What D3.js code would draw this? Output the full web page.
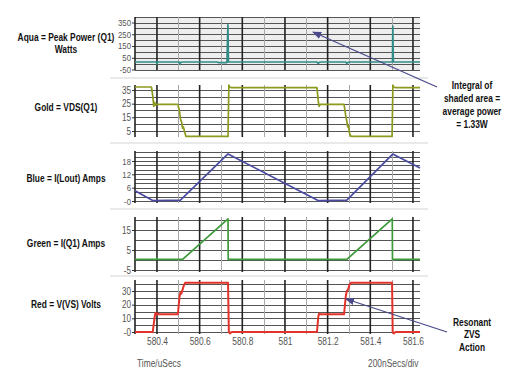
<!DOCTYPE html>
<html><head><meta charset="utf-8">
<script src="https://cdn.jsdelivr.net/npm/d3@7"></script>
<style>body{margin:0;background:#fff}svg{display:block}</style>
</head><body><svg id="c" width="515" height="383"></svg>
<script>
// ---------- data ----------
const timeTicks = [580.4, 580.6, 580.8, 581, 581.2, 581.4, 581.6];
const minorTimes = [580.5, 580.7, 580.9, 581.1, 581.3, 581.5];
const timeDomain = [580.297, 581.633];

const powerTicks = [350, 250, 150, 50, -50];
const vdsTicks = [35, 25, 15, 5];
const iloutTicks = [18, 12, 6, 0];
const iq1Ticks = [15, 5, -5];
const vvsTicks = [30, 20, 10, 0];

const powerGrid = [-50, 0, 50, 100, 150, 200, 250, 300, 350, 400];
const vdsGrid = [5, 10, 15, 20, 25, 30, 35];
const iloutGrid = [0, 2, 4, 6, 8, 10, 12, 14, 16, 18, 20, 22];
const iq1Grid = [-5, 0, 5, 10, 15, 20];
const vvsGrid = [0, 5, 10, 15, 20, 25, 30, 35];

const powerDomain = [-54, 397];
const vdsDomain = [0.6, 38.66];
const iloutDomain = [-0.9, 22.5];
const iq1Domain = [-6, 21.5];
const vvsDomain = [-1.46, 38.05];

// Aqua = peak power (W)
const aquaPower = [[580.297,14],[580.398,14],[580.400,-4],[580.403,14],[580.505,14],[580.508,-2],[580.512,12],[580.52,14],
  [580.68,14],[580.69,9],[580.728,9],[580.7325,330],[580.735,14],[581.15,14],[581.155,2],[581.162,12],[581.17,14],
  [581.285,14],[581.29,2],[581.297,12],[581.305,14],[581.504,14],[581.5055,320],[581.508,14],[581.633,14]];
// Gold = VDS(Q1) (V)
const goldVds = [[580.297,37.2],[580.374,37.2],[580.380,31],[580.385,23],[580.389,26],[580.393,24],[580.40,24.5],[580.498,24.5],
  [580.505,20],[580.51,14],[580.516,11],[580.52,7],[580.524,8],[580.53,4],[580.536,1],[580.733,1],[580.737,38.5],[580.742,37],
  [580.75,36.8],[581.15,36.8],[581.156,27],[581.16,23],[581.165,24.5],[581.277,24.5],[581.284,17],[581.29,12],[581.294,8],
  [581.298,9],[581.303,3],[581.31,1],[581.502,1],[581.506,38.5],[581.511,37],[581.52,36.8],[581.633,36.8]];
// Blue = I(Lout) (A)
const blueIlout = [[580.297,4.6],[580.38,0.2],[580.51,0.4],[580.733,21.2],[581.155,0.2],[581.29,0.4],[581.505,21.1],[581.633,14.8]];
// Green = I(Q1) (A)
const greenIq1 = [[580.297,0.3],[580.398,0.3],[580.40,1],[580.402,0.3],[580.52,0.3],[580.733,20.6],[580.734,0.3],
  [581.29,0.3],[581.503,20.6],[581.504,0.3],[581.633,0.3]];
// Red = V(VS) (V)
const redVvs = [[580.297,0],[580.38,0],[580.39,12],[580.393,14],[580.397,12.5],[580.40,13.5],[580.41,13],[580.498,13],
  [580.506,26],[580.51,29],[580.514,28],[580.52,31],[580.526,34],[580.532,36],[580.733,36],[580.737,0],[580.742,-1],[580.75,0],
  [581.15,0],[581.156,11],[581.16,13.5],[581.165,13],[581.277,13],[581.285,26],[581.29,30],[581.296,31],[581.303,35],[581.31,36],
  [581.502,36],[581.505,0],[581.51,-1],[581.518,0],[581.633,0]];

const seriesLabels = [["Aqua = Peak Power (Q1)", "Watts"], ["Gold = VDS(Q1)"], ["Blue = I(Lout) Amps"], ["Green = I(Q1) Amps"], ["Red = V(VS) Volts"]];
const seriesColors = ["#2f8c86", "#8c9a1e", "#4b4ba3", "#3d9a3a", "#e2332b"];
const noteIntegral = ["Integral of", "shaded area =", "average power", "= 1.33W"];
const noteZvs = ["Resonant", "ZVS", "Action"];
const axisTitle = "Time/uSecs";
const divLabel = "200nSecs/div";

// ---------- layout ----------
const svg = d3.select("#c");
const FONT = "'Liberation Sans',Arial,sans-serif";
const SQ = 0.8; // horizontal condensing of text (narrow look)
function squeeze(sel, f) {
  sel.each(function () {
    const b = this.getBBox();
    const anchor = this.getAttribute("text-anchor") || getComputedStyle(this).textAnchor || "start";
    const ax = anchor === "middle" ? b.x + b.width / 2 : anchor === "end" ? b.x + b.width : b.x;
    d3.select(this).attr("transform", `translate(${ax},0) scale(${f || SQ},1) translate(${-ax},0)`);
  });
}
const x0 = 135, x1 = 420;
const x = d3.scaleLinear().domain(timeDomain).range([x0, x1]);

const panels = [
  {data: aquaPower, domain: powerDomain, ticks: powerTicks, grid: powerGrid, top: 17, bottom: 70, labelY: 43, shade: true, fs: 8.5},
  {data: goldVds, domain: vdsDomain, ticks: vdsTicks, grid: vdsGrid, top: 85, bottom: 137, labelY: 111, fs: 10},
  {data: blueIlout, domain: iloutDomain, ticks: iloutTicks, grid: iloutGrid, top: 151, bottom: 203, labelY: 182, fs: 9.5},
  {data: greenIq1, domain: iq1Domain, ticks: iq1Ticks, grid: iq1Grid, top: 217, bottom: 272, labelY: 247, fs: 10},
  {data: redVvs, domain: vvsDomain, ticks: vvsTicks, grid: vvsGrid, top: 280, bottom: 334, labelY: 308, fs: 10}
];
const separators = [78, 143, 209, 276];

separators.forEach(yy => {
  svg.append("line").attr("x1", 110).attr("x2", 428).attr("y1", yy).attr("y2", yy)
    .attr("stroke", "#d4d4d4").attr("stroke-width", 1.2);
});

panels.forEach((p, i) => {
  const y = d3.scaleLinear().domain(p.domain).range([p.bottom, p.top]);
  const g = svg.append("g");
  if (p.shade) {
    g.append("rect").attr("x", x0).attr("y", p.top).attr("width", x1 - x0).attr("height", p.bottom - p.top)
      .attr("fill", "#eeeeee");
  }
  g.selectAll(".hg").data(p.grid).enter().append("line")
    .attr("x1", x0).attr("x2", x1)
    .attr("y1", d => Math.round(y(d)) + 0.5).attr("y2", d => Math.round(y(d)) + 0.5)
    .attr("stroke", "#555").attr("stroke-width", 1);
  g.selectAll(".mv").data(minorTimes).enter().append("line")
    .attr("x1", d => Math.round(x(d)) + 0.5).attr("x2", d => Math.round(x(d)) + 0.5)
    .attr("y1", p.top).attr("y2", p.bottom)
    .attr("stroke", "#a8a8a8").attr("stroke-width", 1);
  g.selectAll(".jv").data(timeTicks).enter().append("line")
    .attr("x1", d => x(d)).attr("x2", d => x(d))
    .attr("y1", p.top).attr("y2", p.bottom)
    .attr("stroke", "#222").attr("stroke-width", 1.6);
  const ax = d3.axisLeft(y).tickValues(p.ticks).tickSize(3).tickPadding(1)
    .tickFormat(d => d === 0 ? "-0" : String(d));
  const ag = g.append("g").attr("transform", `translate(${x0},0)`).call(ax);
  ag.select(".domain").remove();
  ag.selectAll(".tick line").attr("stroke", "#333");
  ag.selectAll(".tick text").attr("fill", "#555").style("font-family", FONT).style("font-size", p.fs + "px");
  squeeze(ag.selectAll(".tick text"), p.fs < 9 ? 0.92 : 0.82);
  g.append("line").attr("x1", x0).attr("x2", x0).attr("y1", p.top).attr("y2", p.bottom)
    .attr("stroke", "#222").attr("stroke-width", 1.6);
  const line = d3.line().x(d => x(d[0])).y(d => y(d[1]));
  g.append("path").datum(p.data).attr("d", line).attr("fill", "none")
    .attr("stroke", seriesColors[i]).attr("stroke-width", i === 4 ? 2 : 1.7)
    .attr("stroke-linejoin", "round");
  const lab = seriesLabels[i];
  const t = svg.append("text").attr("x", 66).attr("y", lab.length > 1 ? p.labelY - 2 : p.labelY)
    .attr("text-anchor", "middle").style("font-family", FONT).style("font-weight", "bold")
    .style("font-size", "10.5px").attr("fill", "#111");
  lab.forEach((s, k) => t.append("tspan").attr("x", 66).attr("dy", k === 0 ? 0 : 12).text(s));
  squeeze(t);
});

const xa = d3.axisBottom(x).tickValues(timeTicks).tickSize(0).tickPadding(4).tickFormat(d => String(d));
const xg = svg.append("g").attr("transform", `translate(0,334)`).call(xa);
xg.select(".domain").remove();
xg.selectAll(".tick text").attr("fill", "#555").style("font-family", FONT).style("font-size", "10.5px");
squeeze(xg.selectAll(".tick text"));

const at = svg.append("text").attr("x", 137).attr("y", 367).text(axisTitle)
  .style("font-family", FONT).style("font-size", "10.5px").attr("fill", "#555");
const dv = svg.append("text").attr("x", 368).attr("y", 367).text(divLabel)
  .style("font-family", FONT).style("font-size", "10.5px").attr("fill", "#555");
squeeze(at); squeeze(dv);

const defs = svg.append("defs");
defs.append("marker").attr("id", "ah").attr("viewBox", "0 0 10 10").attr("refX", 9).attr("refY", 5)
  .attr("markerWidth", 7).attr("markerHeight", 7).attr("orient", "auto")
  .append("path").attr("d", "M0,1 L10,5 L0,9 Z").attr("fill", "#4b4b8c");

svg.append("line").attr("x1", 437).attr("y1", 87).attr("x2", 313).attr("y2", 32)
  .attr("stroke", "#4b4b8c").attr("stroke-width", 1.3).attr("marker-end", "url(#ah)");
svg.append("line").attr("x1", 447).attr("y1", 332).attr("x2", 346).attr("y2", 299)
  .attr("stroke", "#4b4b8c").attr("stroke-width", 1.3).attr("marker-end", "url(#ah)");

const n1 = svg.append("text").attr("text-anchor", "middle").style("font-family", FONT)
  .style("font-weight", "bold").style("font-size", "10.5px").attr("fill", "#111");
noteIntegral.forEach((s, k) => n1.append("tspan").attr("x", 472).attr("y", 89 + 13 * k).text(s));
squeeze(n1);
const n2 = svg.append("text").attr("text-anchor", "middle").style("font-family", FONT)
  .style("font-weight", "bold").style("font-size", "10.5px").attr("fill", "#111");
noteZvs.forEach((s, k) => n2.append("tspan").attr("x", 472).attr("y", 326 + 12.5 * k).text(s));
squeeze(n2);
</script>
</body></html>
